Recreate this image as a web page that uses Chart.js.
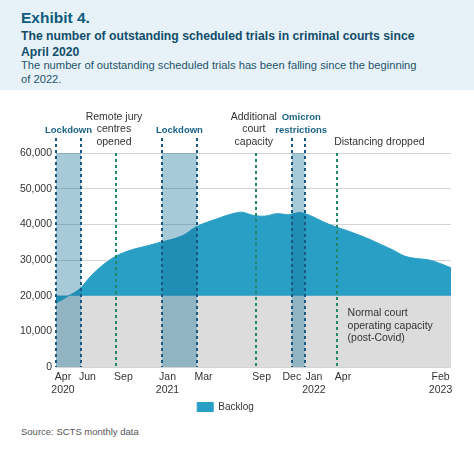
<!DOCTYPE html>
<html lang="en">
<head>
    <meta charset="UTF-8">
    <title>Exhibit 4</title>
    <script src="https://cdn.jsdelivr.net/npm/chart.js"></script>
    <style>
        body { margin: 0; width: 474px; height: 451px; background: #fff; font-family: "Liberation Sans", Arial, sans-serif; position: relative; overflow: hidden; }
        .head { position: absolute; left: 0; top: 0; width: 474px; height: 90px; background: #e6f2f8; }
        .head div { position: absolute; left: 21px; white-space: nowrap; color: #0f5b7d; }
        #exhibit { top: 9px; font-size: 15.5px; font-weight: bold; }
        .sub { font-size: 12.2px; font-weight: bold; color: #124d6b !important; }
        .desc { font-size: 11.2px; color: #27546b !important; }
        #chartBox { position: absolute; left: 0; top: 92px; width: 474px; height: 330px; }
        #source { position: absolute; left: 21px; top: 426px; font-size: 9.5px; color: #555; }
    </style>
</head>
<body>
    <div class="head">
        <div id="exhibit">Exhibit 4.</div>
        <div class="sub" style="top:29px">The number of outstanding scheduled trials in criminal courts since</div>
        <div class="sub" style="top:45px">April 2020</div>
        <div class="desc" style="top:59px">The number of outstanding scheduled trials has been falling since the beginning</div>
        <div class="desc" style="top:73px">of 2022.</div>
    </div>
    <div id="chartBox"><canvas id="trialsChart" width="474" height="330"></canvas></div>
    <div id="source">Source: SCTS monthly data</div>
    <script>
// months since April 2020 (0 = Apr 2020 ... 34 = Feb 2023)
const months = [0, 1, 2, 3, 4, 5, 6, 7, 8, 9, 10, 11, 12, 13, 14, 15, 16, 17,
                18, 19, 20, 21, 22, 23, 24, 25, 26, 27, 28, 29, 30, 31, 32, 33, 34];
const backlog = [17900, 19800, 21800, 25500, 28500, 30800, 32300, 33300, 34100, 35000,
                 35800, 37000, 39200, 40600, 41700, 42800, 43400, 42500, 42300, 43000,
                 42700, 43300, 42300, 40700, 39400, 38300, 37100, 35800, 34300, 32800,
                 31100, 30400, 30100, 29100, 27800];
const normalCapacity = 20000;

const tickMonths = [0.6, 2.7, 5.8, 9.6, 12.7, 17.7, 20.3, 22.2, 24.7, 33.1];
const tickLabels = [['Apr', '2020'], 'Jun', 'Sep', ['Jan', '2021'], 'Mar', 'Sep', 'Dec', ['Jan', '2022'], 'Apr', ['Feb', '2023']];

// restriction periods (blue bands) and events (green lines), in months
const bandStart = [0, 9.12, 20.3];
const bandEnd = [2.15, 12.13, 21.4];
const bandLabels = [['Lockdown'], ['Lockdown'], ['Omicron', 'restrictions']];
const eventMonths = [5.16, 17.2, 24.2];
const eventLabels = [['Remote jury', 'centres', 'opened'], ['Additional', 'court', 'capacity'], ['Distancing dropped']];

const FONT = '"Liberation Sans", Arial, sans-serif';

const annotations = {
    id: 'annotations',
    afterDatasetsDraw(chart) {
        const { ctx, scales: { x, y } } = chart;
        const top = y.getPixelForValue(60000);
        const bottom = y.getPixelForValue(0);
        ctx.save();
        // shaded restriction bands
        ctx.fillStyle = 'rgba(15, 112, 152, 0.37)';
        bandStart.forEach((s, i) => {
            const x0 = x.getPixelForValue(s), x1 = x.getPixelForValue(bandEnd[i]);
            ctx.fillRect(x0, top, x1 - x0, bottom - top);
        });
        ctx.lineWidth = 2;
        ctx.setLineDash([3, 3]);
        ctx.strokeStyle = '#1b5a80';
        bandStart.forEach((s, i) => {
            [s, bandEnd[i]].forEach(v => {
                const px = Math.round(x.getPixelForValue(v));
                ctx.beginPath();
                ctx.moveTo(px, top - 15);
                ctx.lineTo(px, bottom);
                ctx.stroke();
            });
        });
        ctx.strokeStyle = '#24876b';
        eventMonths.forEach(v => {
            const px = Math.round(x.getPixelForValue(v));
            ctx.beginPath();
            ctx.moveTo(px, top);
            ctx.lineTo(px, bottom);
            ctx.stroke();
        });
        ctx.setLineDash([]);
        ctx.textBaseline = 'middle';
        // band labels
        ctx.font = 'bold 9.5px ' + FONT;
        ctx.fillStyle = '#1a6386';
        ctx.textAlign = 'center';
        bandStart.forEach((s, i) => {
            const cx = (x.getPixelForValue(s) + x.getPixelForValue(bandEnd[i])) / 2 + (i === 2 ? 3 : 0);
            const lines = bandLabels[i];
            lines.forEach((t, j) => ctx.fillText(t, cx, top - 23 - (lines.length - 1 - j) * 12.5));
        });
        // event labels
        ctx.font = '10.5px ' + FONT;
        ctx.fillStyle = '#333';
        eventMonths.forEach((v, i) => {
            const lines = eventLabels[i];
            let cx = x.getPixelForValue(v) - 2;
            ctx.textAlign = 'center';
            if (lines.length === 1) { ctx.textAlign = 'left'; cx = x.getPixelForValue(v) - 3; }
            lines.forEach((t, j) => ctx.fillText(t, cx, top - 11 - (lines.length - 1 - j) * 12.5));
        });
        // capacity note
        ctx.textAlign = 'left';
        ['Normal court', 'operating capacity', '(post-Covid)'].forEach((t, j) => {
            ctx.fillText(t, x.getPixelForValue(25.1), y.getPixelForValue(15000) + j * 12.5);
        });
        ctx.restore();
    }
};

new Chart(document.getElementById('trialsChart'), {
    type: 'line',
    data: {
        datasets: [{
            label: 'Normal capacity',
            data: months.map(m => ({ x: m, y: normalCapacity })),
            backgroundColor: '#dcdcdc',
            borderWidth: 0,
            pointRadius: 0,
            fill: 'origin',
            order: 1
        }, {
            label: 'Backlog',
            data: months.map((m, i) => ({ x: m, y: backlog[i] })),
            backgroundColor: '#2a9fc6',
            borderColor: '#2a9fc6',
            borderWidth: 1,
            pointRadius: 0,
            tension: 0.3,
            fill: { value: normalCapacity },
            order: 0
        }]
    },
    options: {
        responsive: false,
        animation: false,
        layout: { padding: { top: 61, right: 23, left: 0, bottom: 0 } },
        scales: {
            x: {
                type: 'linear',
                min: 0,
                max: 34,
                grid: { display: false, drawTicks: false },
                border: { display: false },
                afterBuildTicks: scale => { scale.ticks = tickMonths.map(v => ({ value: v })); },
                afterFit: scale => { scale.height = 30; },
                ticks: {
                    autoSkip: false,
                    maxRotation: 0,
                    padding: 4,
                    color: '#333',
                    font: { family: FONT, size: 10.5 },
                    callback: (v, i) => tickLabels[i]
                }
            },
            y: {
                min: 0,
                max: 60000,
                afterFit: scale => { scale.width = 56; },
                grid: { color: '#d4d4d4', drawTicks: false },
                border: { display: false },
                ticks: {
                    stepSize: 10000,
                    padding: 4,
                    color: '#333',
                    font: { family: FONT, size: 10.5 },
                    callback: v => v.toLocaleString('en-US')
                }
            }
        },
        plugins: {
            legend: {
                position: 'bottom',
                labels: {
                    filter: item => item.datasetIndex === 1,
                    boxWidth: 16,
                    boxHeight: 9,
                    padding: 5,
                    color: '#333',
                    font: { family: FONT, size: 10 }
                }
            },
            tooltip: { enabled: false }
        }
    },
    plugins: [annotations]
});
    </script>
</body>
</html>
